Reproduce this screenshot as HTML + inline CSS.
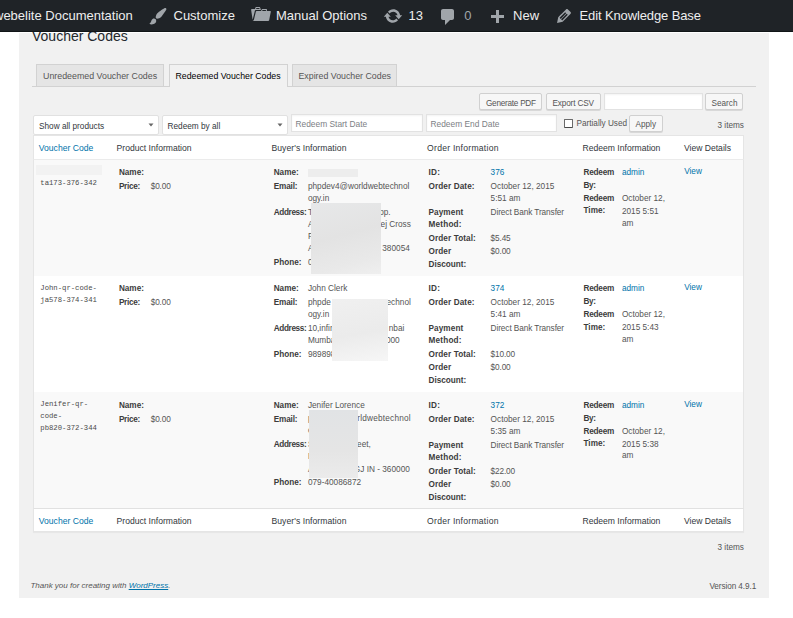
<!DOCTYPE html>
<html><head><meta charset="utf-8"><style>
*{margin:0;padding:0;box-sizing:border-box}
html,body{width:793px;height:618px;overflow:hidden;background:#fff}
body{position:relative;font-family:"Liberation Sans",sans-serif;color:#555}
.t{position:absolute;white-space:nowrap;line-height:12px}
.r{position:absolute}
.b{font-weight:bold;color:#3c3c3c}
.m{font-family:"Liberation Mono",monospace;color:#4a4a4a}
.a{color:#0073aa}
.h{color:#32373c}
.bar{position:absolute;left:0;top:0;width:793px;height:32px;background:#1f2327;border-bottom:1px solid #111517;z-index:5;overflow:hidden}
.bt{position:absolute;top:10px;font-size:13px;line-height:12px;color:#eee;white-space:nowrap}
.ic{position:absolute;fill:#a0a5aa}
</style></head><body>
<div class="bar"><div class="bt" style="left:-6px;color:#eee;">webelite Documentation</div><div class="bt" style="left:173.5px;color:#eee;">Customize</div><div class="bt" style="left:276px;color:#eee;">Manual Options</div><div class="bt" style="left:408.5px;color:#eee;">13</div><div class="bt" style="left:464.3px;color:#a0a5aa;">0</div><div class="bt" style="left:513.1px;color:#eee;">New</div><div class="bt" style="left:579.5px;color:#eee;letter-spacing:-0.12px;">Edit Knowledge Base</div><svg class="ic" style="left:148px;top:5.7px" width="20" height="20" viewBox="0 0 20 20"><path d="M18.33 3.57s.27-.8-.31-1.36c-.53-.52-1.22-.24-1.22-.24-.61.3-5.76 3.47-7.67 5.57-.86.96-2.06 3.79-1.09 4.82.92.98 3.96-.17 4.79-1 2.06-2.06 5.21-7.17 5.5-7.79zM1.4 17.65c2.37-1.56 1.46-3.41 3.23-4.64.93-.65 2.22-.62 3.08.29.63.67.8 2.57-.16 3.49-1.57 1.51-4.61 2.33-6.15.86z"/></svg><svg class="ic" style="left:250.5px;top:3.9px" width="20" height="20" viewBox="0 0 20 20"><path d="M4 5H.78c-.37 0-.74.32-.69.84l1.56 9.99S3.5 8.47 3.86 6.7c.11-.53.61-.7.98-.7H10s-.7-2.08-.77-2.31C9.11 3.25 8.89 3 8.45 3H5.14c-.36 0-.7.23-.8.64C4.25 4.04 4 5 4 5zm4.88 0h-4s.42-1 .87-1h2.13c.48 0 1 1 1 1zM2.67 16.25c-.31.47-.76.75-1.26.75h15.73c.54 0 .92-.31 1.03-.83.44-2.19 1.68-8.44 1.68-8.44.07-.5-.3-.73-.62-.73H16V5.53c0-.16-.26-.53-.66-.53h-3.76c-.52 0-.87.58-.87.58L10 7H5.59c-.32 0-.63.19-.69.5 0 0-1.59 6.7-1.72 7.33-.07.37-.22.99-.51 1.42zM15.38 7H11s.58-1 .84-1h2.75c.29 0 .79 1 .79 1z"/></svg><svg class="ic" style="left:383.1px;top:6.3px" width="20" height="20" viewBox="0 0 20 20"><path d="M10.2 3.28c3.53 0 6.43 2.61 6.92 6h2.08l-3.5 4-3.5-4h2.32c-.45-1.97-2.21-3.44-4.32-3.44-1.45 0-2.73.71-3.54 1.78L4.95 5.66C6.23 4.2 8.11 3.28 10.2 3.28zm-.4 13.44c-3.52 0-6.43-2.61-6.92-6H.8l3.5-4c1.17 1.33 2.33 2.67 3.5 4H5.48c.45 1.97 2.21 3.44 4.32 3.44 1.45 0 2.73-.71 3.54-1.78l1.71 1.95c-1.28 1.46-3.15 2.39-5.25 2.39z"/></svg><svg class="ic" style="left:438px;top:7px" width="20" height="20" viewBox="0 0 20 20"><path d="M5 2h9c1.1 0 2 .9 2 2v7c0 1.1-.9 2-2 2h-2l-5 5v-5H5c-1.1 0-2-.9-2-2V4c0-1.1.9-2 2-2z"/></svg><svg class="ic" style="left:486.8px;top:7.9px" width="20" height="20" viewBox="0 0 20 20"><path d="M17 7v3h-5v5H9v-5H4V7h5V2h3v5h5z"/></svg><svg class="ic" style="left:553.6px;top:5.8px" width="20" height="20" viewBox="0 0 20 20"><path d="M13.89 3.39l2.71 2.72c.46.46.42 1.24.03 1.64l-8.01 8.02-5.56 1.16 1.16-5.58s7.6-7.63 7.99-8.03c.39-.39 1.22-.39 1.68.07zm-2.73 2.79l-5.59 5.61 1.11 1.11 5.54-5.65zm-2.97 8.23l5.58-5.6-1.07-1.08-5.59 5.6z"/></svg></div>
<div class="r" style="left:19px;top:33px;width:750px;height:565px;background:#f1f1f1"></div>
<div class="t " style="left:32px;top:30px;font-size:14px;color:#23282d;">Voucher Codes</div>
<div class="r" style="left:36px;top:64px;width:128px;height:22px;background:#e5e5e5;border:1px solid #d2d2d2;border-bottom:none"></div>
<div class="t " style="left:43px;top:70px;font-size:8.85px;color:#555;">Unredeemed Voucher Codes</div>
<div class="r" style="left:292px;top:64px;width:105px;height:22px;background:#e5e5e5;border:1px solid #d2d2d2;border-bottom:none"></div>
<div class="t " style="left:298.5px;top:70px;font-size:8.8px;color:#555;">Expired Voucher Codes</div>
<div class="r" style="left:32px;top:86px;width:724px;height:1px;background:#d2d2d2"></div>
<div class="r" style="left:169px;top:64px;width:119px;height:23px;background:#f1f1f1;border:1px solid #d2d2d2;border-bottom:none"></div>
<div class="t " style="left:175.5px;top:70px;font-size:8.75px;color:#000;">Redeemed Voucher Codes</div>
<div class="r" style="left:479px;top:93px;width:63px;height:17px;background:#f7f7f7;border:1px solid #d0d0d0;border-radius:2px;box-shadow:0 1px 0 #d8d8d8"></div>
<div class="t " style="left:486px;top:98px;font-size:8.2px;color:#555;letter-spacing:-0.25px;">Generate PDF</div>
<div class="r" style="left:546px;top:93px;width:55px;height:17px;background:#f7f7f7;border:1px solid #d0d0d0;border-radius:2px;box-shadow:0 1px 0 #d8d8d8"></div>
<div class="t " style="left:552.5px;top:98px;font-size:8.2px;color:#555;letter-spacing:-0.15px;">Export CSV</div>
<div class="r" style="left:604px;top:93px;width:99px;height:17px;background:#fff;border:1px solid #e2e2e2;box-shadow:inset 0 1px 2px rgba(0,0,0,.05)"></div>
<div class="r" style="left:705px;top:93px;width:38px;height:17px;background:#f7f7f7;border:1px solid #d0d0d0;border-radius:2px;box-shadow:0 1px 0 #d8d8d8"></div>
<div class="t " style="left:711.5px;top:98px;font-size:8.2px;color:#555;">Search</div>
<div class="r" style="left:33px;top:115px;width:126px;height:20px;background:#fff;border:1px solid #e1e1e1;border-radius:2px"></div>
<div class="t " style="left:39px;top:121px;font-size:8.25px;color:#32373c;">Show all products</div>
<svg class="r" style="left:148px;top:123px" width="6" height="4"><path d="M0.5 0.5H5.5L3 3.5Z" fill="#666"/></svg>
<div class="r" style="left:162px;top:115px;width:126px;height:20px;background:#fff;border:1px solid #e1e1e1;border-radius:2px"></div>
<div class="t " style="left:167.5px;top:121px;font-size:8.25px;color:#32373c;">Redeem by all</div>
<svg class="r" style="left:277px;top:123px" width="6" height="4"><path d="M0.5 0.5H5.5L3 3.5Z" fill="#666"/></svg>
<div class="r" style="left:291px;top:114px;width:132px;height:18px;background:#fff;border:1px solid #e2e2e2;box-shadow:inset 0 1px 2px rgba(0,0,0,.05)"></div>
<div class="t " style="left:295.5px;top:118px;font-size:8.4px;color:#7c8084;">Redeem Start Date</div>
<div class="r" style="left:426px;top:114px;width:131px;height:18px;background:#fff;border:1px solid #e2e2e2;box-shadow:inset 0 1px 2px rgba(0,0,0,.05)"></div>
<div class="t " style="left:430.5px;top:118px;font-size:8.4px;color:#7c8084;">Redeem End Date</div>
<div class="r" style="left:564px;top:119px;width:9px;height:9px;background:#fff;border:1px solid #6a6a6a;border-bottom-color:#484848;border-radius:1px"></div>
<div class="t " style="left:576.5px;top:118px;font-size:8.2px;color:#555;">Partially Used</div>
<div class="r" style="left:629px;top:115px;width:34px;height:17px;background:#f7f7f7;border:1px solid #d0d0d0;border-radius:2px;box-shadow:0 1px 0 #d8d8d8"></div>
<div class="t " style="left:635.5px;top:119px;font-size:8.2px;color:#555;">Apply</div>
<div class="t " style="left:717.5px;top:120px;font-size:8.2px;color:#555;">3 items</div>
<div class="r" style="left:33px;top:135px;width:711px;height:25px;background:#fff;border:1px solid #e5e5e5;border-bottom-color:#ebebeb"></div>
<div class="r" style="left:33px;top:160px;width:711px;height:348px;background:#fff;border-left:1px solid #e5e5e5;border-right:1px solid #e5e5e5"></div>
<div class="r" style="left:34px;top:160px;width:709px;height:116px;background:#f9f9f9"></div>
<div class="r" style="left:34px;top:392px;width:709px;height:116px;background:#f9f9f9"></div>
<div class="r" style="left:33px;top:508px;width:711px;height:24px;background:#fff;border:1px solid #e5e5e5;border-top-color:#e1e1e1;box-shadow:0 1px 1px rgba(0,0,0,.04)"></div>
<div class="t a" style="left:38.8px;top:142px;font-size:8.6px;">Voucher Code</div>
<div class="t h" style="left:116.6px;top:142px;font-size:8.6px;">Product Information</div>
<div class="t h" style="left:271.4px;top:142px;font-size:8.6px;letter-spacing:0.07px;">Buyer&#39;s Information</div>
<div class="t h" style="left:427.1px;top:142px;font-size:8.6px;letter-spacing:0.25px;">Order Information</div>
<div class="t h" style="left:582.5px;top:142px;font-size:8.6px;">Redeem Information</div>
<div class="t h" style="left:683.9px;top:142px;font-size:8.6px;">View Details</div>
<div class="t a" style="left:38.8px;top:515px;font-size:8.6px;">Voucher Code</div>
<div class="t h" style="left:116.6px;top:515px;font-size:8.6px;">Product Information</div>
<div class="t h" style="left:271.4px;top:515px;font-size:8.6px;letter-spacing:0.07px;">Buyer&#39;s Information</div>
<div class="t h" style="left:427.1px;top:515px;font-size:8.6px;letter-spacing:0.25px;">Order Information</div>
<div class="t h" style="left:582.5px;top:515px;font-size:8.6px;">Redeem Information</div>
<div class="t h" style="left:683.9px;top:515px;font-size:8.6px;">View Details</div>
<div class="t m" style="left:40.3px;top:177px;font-size:7.25px;">ta173-376-342</div>
<div class="t b" style="left:118.9px;top:167px;font-size:8.2px;">Name:</div>
<div class="t b" style="left:118.9px;top:181px;font-size:8.2px;letter-spacing:-0.3px;">Price:</div>
<div class="t " style="left:150.7px;top:181px;font-size:8.25px;letter-spacing:-0.14px;">$0.00</div>
<div class="t b" style="left:273.7px;top:167px;font-size:8.2px;">Name:</div>
<div class="t b" style="left:273.7px;top:181px;font-size:8.2px;letter-spacing:-0.15px;">Email:</div>
<div class="t b" style="left:273.7px;top:207px;font-size:8.2px;letter-spacing:-0.35px;">Address:</div>
<div class="t b" style="left:273.7px;top:257px;font-size:8.2px;">Phone:</div>
<div class="t " style="left:307.9px;top:167px;font-size:8.25px;"></div>
<div class="t " style="left:307.9px;top:181px;font-size:8.25px;">phpdev4@worldwebtechnol</div>
<div class="t " style="left:307.9px;top:193px;font-size:8.25px;">ogy.in</div>
<div class="t " style="left:307.9px;top:207px;font-size:8.25px;">T</div>
<div class="t" style="right:402.4px;top:207px;font-size:8.25px;">pp.</div>
<div class="t " style="left:307.9px;top:219px;font-size:8.25px;">A</div>
<div class="t" style="right:382.2px;top:219px;font-size:8.25px;">ej Cross</div>
<div class="t " style="left:307.9px;top:231px;font-size:8.25px;">F</div>
<div class="t " style="left:307.9px;top:243px;font-size:8.25px;">A</div>
<div class="t" style="right:383.2px;top:243px;font-size:8.25px;">380054</div>
<div class="t " style="left:307.9px;top:257px;font-size:8.25px;">0</div>
<div class="t b" style="left:428.5px;top:167px;font-size:8.2px;letter-spacing:0.3px;">ID:</div>
<div class="t a" style="left:490.6px;top:167px;font-size:8.25px;">376</div>
<div class="t b" style="left:428.5px;top:181px;font-size:8.2px;letter-spacing:0.1px;">Order Date:</div>
<div class="t " style="left:490.6px;top:181px;font-size:8.25px;">October 12, 2015</div>
<div class="t " style="left:490.6px;top:193px;font-size:8.25px;">5:51 am</div>
<div class="t b" style="left:428.5px;top:207px;font-size:8.2px;letter-spacing:0.1px;">Payment</div>
<div class="t b" style="left:428.5px;top:219px;font-size:8.2px;letter-spacing:0.2px;">Method:</div>
<div class="t " style="left:490.6px;top:207px;font-size:8.25px;letter-spacing:-0.09px;">Direct Bank Transfer</div>
<div class="t b" style="left:428.5px;top:233px;font-size:8.2px;letter-spacing:0.1px;">Order Total:</div>
<div class="t " style="left:490.6px;top:233px;font-size:8.25px;letter-spacing:-0.14px;">$5.45</div>
<div class="t b" style="left:428.5px;top:246px;font-size:8.2px;letter-spacing:0.1px;">Order</div>
<div class="t b" style="left:428.5px;top:259px;font-size:8.2px;">Discount:</div>
<div class="t " style="left:490.6px;top:246px;font-size:8.25px;letter-spacing:-0.14px;">$0.00</div>
<div class="t b" style="left:583.5px;top:167px;font-size:8.2px;letter-spacing:-0.2px;">Redeem</div>
<div class="t b" style="left:583.5px;top:180px;font-size:8.2px;letter-spacing:-0.3px;">By:</div>
<div class="t a" style="left:621.9px;top:167px;font-size:8.25px;">admin</div>
<div class="t b" style="left:583.5px;top:193px;font-size:8.2px;letter-spacing:-0.2px;">Redeem</div>
<div class="t b" style="left:583.5px;top:205px;font-size:8.2px;">Time:</div>
<div class="t " style="left:621.9px;top:193px;font-size:8.25px;">October 12,</div>
<div class="t " style="left:621.9px;top:206px;font-size:8.25px;">2015 5:51</div>
<div class="t " style="left:621.9px;top:218px;font-size:8.25px;">am</div>
<div class="t a" style="left:684.2px;top:166px;font-size:8.25px;">View</div>
<div class="r" style="left:36px;top:165px;width:66px;height:10px;background:#f2f2f2;filter:blur(0.5px)"></div>
<div class="r" style="left:308px;top:169px;width:50px;height:8px;background:#ededed;filter:blur(0.5px)"></div>
<div class="r" style="left:311px;top:203px;width:70px;height:70.5px;background:linear-gradient(165deg,#e7e8e9 0%,#e3e3e3 45%,#e9e9e9 80%,#efefef 100%);filter:blur(0.5px)"></div>
<div class="t m" style="left:40.3px;top:282px;font-size:7.25px;">John-qr-code-</div>
<div class="t m" style="left:40.3px;top:294px;font-size:7.25px;">ja578-374-341</div>
<div class="t b" style="left:118.9px;top:283px;font-size:8.2px;">Name:</div>
<div class="t b" style="left:118.9px;top:297px;font-size:8.2px;letter-spacing:-0.3px;">Price:</div>
<div class="t " style="left:150.7px;top:297px;font-size:8.25px;letter-spacing:-0.14px;">$0.00</div>
<div class="t b" style="left:273.7px;top:283px;font-size:8.2px;">Name:</div>
<div class="t b" style="left:273.7px;top:297px;font-size:8.2px;letter-spacing:-0.15px;">Email:</div>
<div class="t b" style="left:273.7px;top:323px;font-size:8.2px;letter-spacing:-0.35px;">Address:</div>
<div class="t b" style="left:273.7px;top:349px;font-size:8.2px;">Phone:</div>
<div class="t " style="left:307.9px;top:283px;font-size:8.25px;">John Clerk</div>
<div class="t " style="left:307.9px;top:297px;font-size:8.25px;">phpde</div>
<div class="t" style="right:382.2px;top:297px;font-size:8.25px;">echnol</div>
<div class="t " style="left:307.9px;top:309px;font-size:8.25px;">ogy.in</div>
<div class="t " style="left:307.9px;top:323px;font-size:8.25px;">10,infinit</div>
<div class="t" style="right:388.7px;top:323px;font-size:8.25px;">nbai</div>
<div class="t " style="left:307.9px;top:335px;font-size:8.25px;">Mumbai</div>
<div class="t" style="right:393.3px;top:335px;font-size:8.25px;">000</div>
<div class="t " style="left:307.9px;top:349px;font-size:8.25px;">98989898989</div>
<div class="t b" style="left:428.5px;top:283px;font-size:8.2px;letter-spacing:0.3px;">ID:</div>
<div class="t a" style="left:490.6px;top:283px;font-size:8.25px;">374</div>
<div class="t b" style="left:428.5px;top:297px;font-size:8.2px;letter-spacing:0.1px;">Order Date:</div>
<div class="t " style="left:490.6px;top:297px;font-size:8.25px;">October 12, 2015</div>
<div class="t " style="left:490.6px;top:309px;font-size:8.25px;">5:41 am</div>
<div class="t b" style="left:428.5px;top:323px;font-size:8.2px;letter-spacing:0.1px;">Payment</div>
<div class="t b" style="left:428.5px;top:335px;font-size:8.2px;letter-spacing:0.2px;">Method:</div>
<div class="t " style="left:490.6px;top:323px;font-size:8.25px;letter-spacing:-0.09px;">Direct Bank Transfer</div>
<div class="t b" style="left:428.5px;top:349px;font-size:8.2px;letter-spacing:0.1px;">Order Total:</div>
<div class="t " style="left:490.6px;top:349px;font-size:8.25px;letter-spacing:-0.14px;">$10.00</div>
<div class="t b" style="left:428.5px;top:362px;font-size:8.2px;letter-spacing:0.1px;">Order</div>
<div class="t b" style="left:428.5px;top:375px;font-size:8.2px;">Discount:</div>
<div class="t " style="left:490.6px;top:362px;font-size:8.25px;letter-spacing:-0.14px;">$0.00</div>
<div class="t b" style="left:583.5px;top:283px;font-size:8.2px;letter-spacing:-0.2px;">Redeem</div>
<div class="t b" style="left:583.5px;top:296px;font-size:8.2px;letter-spacing:-0.3px;">By:</div>
<div class="t a" style="left:621.9px;top:283px;font-size:8.25px;">admin</div>
<div class="t b" style="left:583.5px;top:309px;font-size:8.2px;letter-spacing:-0.2px;">Redeem</div>
<div class="t b" style="left:583.5px;top:322px;font-size:8.2px;">Time:</div>
<div class="t " style="left:621.9px;top:309px;font-size:8.25px;">October 12,</div>
<div class="t " style="left:621.9px;top:322px;font-size:8.25px;">2015 5:43</div>
<div class="t " style="left:621.9px;top:334px;font-size:8.25px;">am</div>
<div class="t a" style="left:684.2px;top:282px;font-size:8.25px;">View</div>
<div class="r" style="left:332px;top:299.1px;width:56px;height:62px;background:linear-gradient(170deg,#f0f0f0,#ebebeb 55%,#f6f6f6);filter:blur(0.5px)"></div>
<div class="t m" style="left:40.3px;top:398px;font-size:7.25px;">Jenifer-qr-</div>
<div class="t m" style="left:40.3px;top:410px;font-size:7.25px;">code-</div>
<div class="t m" style="left:40.3px;top:422px;font-size:7.25px;">pb820-372-344</div>
<div class="t b" style="left:118.9px;top:400px;font-size:8.2px;">Name:</div>
<div class="t b" style="left:118.9px;top:414px;font-size:8.2px;letter-spacing:-0.3px;">Price:</div>
<div class="t " style="left:150.7px;top:414px;font-size:8.25px;letter-spacing:-0.14px;">$0.00</div>
<div class="t b" style="left:273.7px;top:400px;font-size:8.2px;">Name:</div>
<div class="t b" style="left:273.7px;top:414px;font-size:8.2px;letter-spacing:-0.15px;">Email:</div>
<div class="t b" style="left:273.7px;top:439px;font-size:8.2px;letter-spacing:-0.35px;">Address:</div>
<div class="t b" style="left:273.7px;top:477px;font-size:8.2px;">Phone:</div>
<div class="t " style="left:307.9px;top:400px;font-size:8.25px;">Jenifer Lorence</div>
<div class="t " style="left:307.9px;top:413px;font-size:8.25px;">p</div>
<div class="t" style="right:382.2px;top:413px;font-size:8.25px;letter-spacing:0.2px;">rldwebtechnol</div>
<div class="t " style="left:307.9px;top:425px;font-size:8.25px;">o</div>
<div class="t " style="left:307.9px;top:439px;font-size:8.25px;">S</div>
<div class="t" style="right:422.2px;top:439px;font-size:8.25px;">eet,</div>
<div class="t " style="left:307.9px;top:451px;font-size:8.25px;">R</div>
<div class="t " style="left:307.9px;top:464px;font-size:8.25px;">A</div>
<div class="t" style="right:383.2px;top:464px;font-size:8.25px;">GJ IN - 360000</div>
<div class="t " style="left:307.9px;top:477px;font-size:8.25px;">079-40086872</div>
<div class="t b" style="left:428.5px;top:400px;font-size:8.2px;letter-spacing:0.3px;">ID:</div>
<div class="t a" style="left:490.6px;top:400px;font-size:8.25px;">372</div>
<div class="t b" style="left:428.5px;top:414px;font-size:8.2px;letter-spacing:0.1px;">Order Date:</div>
<div class="t " style="left:490.6px;top:414px;font-size:8.25px;">October 12, 2015</div>
<div class="t " style="left:490.6px;top:426px;font-size:8.25px;">5:35 am</div>
<div class="t b" style="left:428.5px;top:440px;font-size:8.2px;letter-spacing:0.1px;">Payment</div>
<div class="t b" style="left:428.5px;top:452px;font-size:8.2px;letter-spacing:0.2px;">Method:</div>
<div class="t " style="left:490.6px;top:440px;font-size:8.25px;letter-spacing:-0.09px;">Direct Bank Transfer</div>
<div class="t b" style="left:428.5px;top:466px;font-size:8.2px;letter-spacing:0.1px;">Order Total:</div>
<div class="t " style="left:490.6px;top:466px;font-size:8.25px;letter-spacing:-0.14px;">$22.00</div>
<div class="t b" style="left:428.5px;top:479px;font-size:8.2px;letter-spacing:0.1px;">Order</div>
<div class="t b" style="left:428.5px;top:492px;font-size:8.2px;">Discount:</div>
<div class="t " style="left:490.6px;top:479px;font-size:8.25px;letter-spacing:-0.14px;">$0.00</div>
<div class="t b" style="left:583.5px;top:400px;font-size:8.2px;letter-spacing:-0.2px;">Redeem</div>
<div class="t b" style="left:583.5px;top:413px;font-size:8.2px;letter-spacing:-0.3px;">By:</div>
<div class="t a" style="left:621.9px;top:400px;font-size:8.25px;">admin</div>
<div class="t b" style="left:583.5px;top:426px;font-size:8.2px;letter-spacing:-0.2px;">Redeem</div>
<div class="t b" style="left:583.5px;top:438px;font-size:8.2px;">Time:</div>
<div class="t " style="left:621.9px;top:426px;font-size:8.25px;">October 12,</div>
<div class="t " style="left:621.9px;top:439px;font-size:8.25px;">2015 5:38</div>
<div class="t " style="left:621.9px;top:450px;font-size:8.25px;">am</div>
<div class="t a" style="left:684.2px;top:399px;font-size:8.25px;">View</div>
<div class="r" style="left:309px;top:409.9px;width:49px;height:68.5px;background:linear-gradient(to bottom,#e1e3e5,#e5e5e5 60%,#ebebeb);filter:blur(0.5px)"></div>
<div class="t " style="left:30.4px;top:580px;font-size:8px;font-style:italic;color:#555;">Thank you for creating with <span style="color:#0073aa;text-decoration:underline">WordPress</span>.</div>
<div class="t " style="left:717.5px;top:542px;font-size:8.2px;color:#555;">3 items</div>
<div class="t " style="left:709.4px;top:581px;font-size:8.2px;color:#555;letter-spacing:-0.08px;">Version 4.9.1</div>
</body></html>
